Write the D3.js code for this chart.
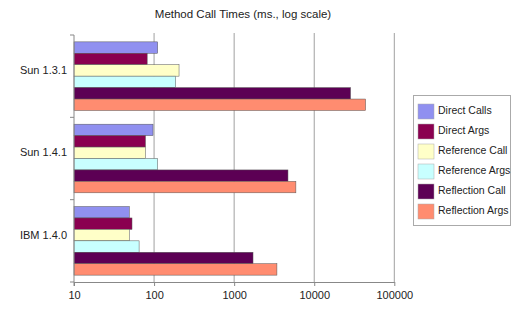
<html>
<head>
  <script src="https://cdnjs.cloudflare.com/ajax/libs/d3/7.8.5/d3.min.js"></script>
  <meta charset="UTF-8">
  <style>
  body { margin: 0; background: #fff; font-family: "Liberation Sans", Arial, sans-serif; }
  </style>
</head>
<body>
<div id="chart"></div>
<script>

// data (ms, log scale)
const categories = ['Sun 1.3.1', 'Sun 1.4.1', 'IBM 1.4.0'];
const seriesNames = ['Direct Calls', 'Direct Args', 'Reference Call', 'Reference Args', 'Reflection Call', 'Reflection Args'];
const seriesColors = ['#9090f0', '#8a0050', '#ffffc8', '#c8ffff', '#5c0054', '#ff8c70'];
const directCalls = [111, 97, 49];
const directArgs = [82, 78, 53];
const referenceCall = [205, 78, 49];
const referenceArgs = [186, 111, 65];
const reflectionCall = [28400, 4700, 1720];
const reflectionArgs = [43800, 5900, 3420];
const tickValues = [10, 100, 1000, 10000, 100000];

const seriesValues = [directCalls, directArgs, referenceCall, referenceArgs, reflectionCall, reflectionArgs];

const width = 520, height = 309;
const X0 = 74, X1 = 394.3, Y0 = 35, Y1 = 282;

const svg = d3.select('#chart').append('svg')
  .attr('width', width)
  .attr('height', height);

const x = d3.scaleLog().domain([10, 100000]).range([X0, X1]);
const y = d3.scaleBand().domain(categories).range([Y0, Y1]);
const yInner = d3.scaleBand().domain(seriesNames)
  .range([0, y.bandwidth()])
  .paddingOuter(0.6)
  .paddingInner(0);

// title
svg.append('text')
  .attr('x', 243)
  .attr('y', 18)
  .attr('text-anchor', 'middle')
  .style('font-size', '11.5px')
  .attr('fill', '#222')
  .text('Method Call Times (ms., log scale)');

// gridlines
svg.append('g')
  .selectAll('line')
  .data(tickValues.slice(1))
  .join('line')
    .attr('x1', d => x(d))
    .attr('x2', d => x(d))
    .attr('y1', Y0 - 2)
    .attr('y2', Y1)
    .attr('stroke', '#a0a0a0')
    .attr('stroke-width', 1);

// bars
const groups = svg.append('g')
  .selectAll('g')
  .data(categories)
  .join('g')
    .attr('transform', d => `translate(0,${y(d)})`);

groups.selectAll('rect')
  .data((c, ci) => seriesNames.map((s, si) => ({ s, si, v: seriesValues[si][ci] })))
  .join('rect')
    .attr('x', x(10))
    .attr('y', d => yInner(d.s))
    .attr('width', d => x(d.v) - x(10))
    .attr('height', yInner.bandwidth())
    .attr('fill', d => seriesColors[d.si])
    .attr('stroke', '#555')
    .attr('stroke-width', 0.5);

// x axis
const xAxis = svg.append('g')
  .attr('transform', `translate(0,${Y1})`)
  .call(d3.axisBottom(x).tickValues(tickValues).tickFormat(d3.format('d')).tickSize(4).tickSizeOuter(0));
xAxis.select('.domain').attr('stroke', '#888');
xAxis.selectAll('.tick line').attr('stroke', '#888');
xAxis.selectAll('.tick text')
  .attr('dy', '0.9em')
  .style('font-size', '11px')
  .style('font-family', '"Liberation Sans", Arial, sans-serif')
  .attr('fill', '#222');

// y axis line with boundary ticks
svg.append('line')
  .attr('x1', X0).attr('x2', X0)
  .attr('y1', Y0).attr('y2', Y1 + 4)
  .attr('stroke', '#888');
svg.append('g')
  .selectAll('line')
  .data(categories.concat(['end']))
  .join('line')
    .attr('x1', X0 - 4)
    .attr('x2', X0)
    .attr('y1', (d, i) => Y0 + i * y.step())
    .attr('y2', (d, i) => Y0 + i * y.step())
    .attr('stroke', '#888');

// category labels
svg.append('g')
  .selectAll('text')
  .data(categories)
  .join('text')
    .attr('x', 67)
    .attr('y', d => y(d) + y.bandwidth() / 2 - 5)
    .attr('text-anchor', 'end')
    .attr('dominant-baseline', 'middle')
    .style('font-size', '11px')
    .attr('fill', '#222')
    .text(d => d);

// legend
const legend = svg.append('g');
legend.append('rect')
  .attr('x', 413.5)
  .attr('y', 95.5)
  .attr('width', 97)
  .attr('height', 130)
  .attr('fill', '#fff')
  .attr('stroke', '#aaa')
  .attr('stroke-width', 1);

const items = legend.selectAll('g')
  .data(seriesNames)
  .join('g')
    .attr('transform', (d, i) => `translate(418,${104 + i * 20})`);
items.append('rect')
  .attr('width', 16)
  .attr('height', 15)
  .attr('fill', (d, i) => seriesColors[i])
  .attr('stroke', '#aaa')
  .attr('stroke-width', 0.5);
items.append('text')
  .attr('x', 20)
  .attr('y', 7.5)
  .attr('dominant-baseline', 'middle')
  .style('font-size', '10.5px')
  .attr('fill', '#222')
  .text(d => d);

</script>
</body>
</html>
